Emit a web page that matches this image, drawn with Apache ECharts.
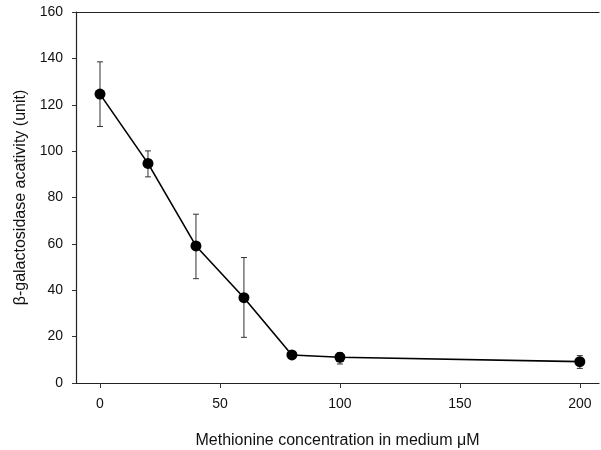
<!DOCTYPE html>
<html>
<head>
<meta charset="utf-8">
<script src="https://cdn.jsdelivr.net/npm/echarts@6/dist/echarts.min.js"></script>
<style>
  html, body { margin: 0; padding: 0; background: #fff; }
  #chart { width: 601px; height: 450px; }
</style>
</head>
<body>
<div id="chart"></div>
<script>
// methionine concentration (uM) and beta-galactosidase activity
var concentrations = [0, 20, 40, 60, 80, 100, 200];
var activity = [124.6, 94.7, 59.1, 36.8, 12.1, 11.1, 9.2];
var errLow = [110.6, 88.9, 45.0, 19.7, 12.1, 8.2, 6.3];
var errHigh = [138.5, 100.1, 72.8, 54.1, 12.1, 13.1, 11.8];

var points = concentrations.map(function (c, i) { return [c, activity[i]]; });
var bars = concentrations.map(function (c, i) { return [c, errLow[i], errHigh[i]]; });

var chart = echarts.init(document.getElementById('chart'));
var font = 'Liberation Sans, Arial, sans-serif';

var option = {
    backgroundColor: '#fff',
    animation: false,
    grid: { left: 76, top: 12, bottom: 67, width: 523, containLabel: false, outerBoundsMode: 'none' },
    xAxis: [{
        type: 'value',
        min: -10,
        max: 208,
        interval: 50,
        name: 'Methionine concentration in medium \u03bcM',
        nameLocation: 'middle',
        nameGap: 50,
        nameTextStyle: { fontFamily: font, fontSize: 16, color: '#111' },
        axisLine: { onZero: false, lineStyle: { color: '#222', width: 1.2 } },
        axisTick: { show: true, length: 5, lineStyle: { color: '#333' },
            customValues: [0, 50, 100, 150, 200] },
        axisLabel: { fontFamily: font, fontSize: 14, color: '#111', margin: 14,
            customValues: [0, 50, 100, 150, 200] },
        splitLine: { show: false }
    }, {
        type: 'value',
        position: 'top',
        min: -10,
        max: 208,
        axisLine: { show: true, onZero: false, lineStyle: { color: '#222', width: 1.2 } },
        axisTick: { show: false },
        axisLabel: { show: false },
        splitLine: { show: false }
    }],
    yAxis: {
        type: 'value',
        min: 0,
        max: 160,
        interval: 20,
        name: '\u03b2-galactosidase acativity (unit)',
        nameLocation: 'middle',
        nameGap: 46,
        nameTextStyle: { fontFamily: font, fontSize: 16, color: '#111' },
        axisLine: { show: true, onZero: false, lineStyle: { color: '#222', width: 1.2 } },
        axisTick: { show: true, length: 4, lineStyle: { color: '#333' } },
        axisLabel: { fontFamily: font, fontSize: 14, color: '#111', margin: 13 },
        splitLine: { show: false }
    },
    series: [{
        type: 'custom',
        data: bars,
        z: 1,
        renderItem: function (params, api) {
            var x = api.value(0);
            var lo = api.coord([x, api.value(1)]);
            var hi = api.coord([x, api.value(2)]);
            var cap = 3;
            var style = { stroke: '#333', lineWidth: 1 };
            return {
                type: 'group',
                children: [
                    { type: 'line', shape: { x1: lo[0], y1: lo[1], x2: hi[0], y2: hi[1] }, style: style },
                    { type: 'line', shape: { x1: hi[0] - cap, y1: hi[1], x2: hi[0] + cap, y2: hi[1] }, style: style },
                    { type: 'line', shape: { x1: lo[0] - cap, y1: lo[1], x2: lo[0] + cap, y2: lo[1] }, style: style }
                ]
            };
        }
    }, {
        type: 'line',
        data: points,
        z: 3,
        symbol: 'circle',
        symbolSize: 11,
        itemStyle: { color: '#000' },
        lineStyle: { color: '#000', width: 1.6 }
    }]
};

chart.setOption(option);
</script>
</body>
</html>
